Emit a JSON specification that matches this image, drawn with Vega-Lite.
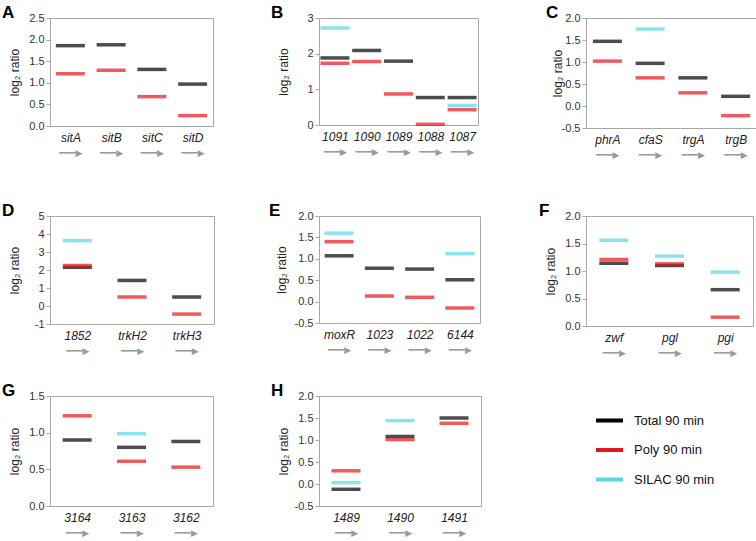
{
"$schema": "https://vega.github.io/schema/vega-lite/v6.json",
"background": "white",
"padding": {"left": 1, "top": 3, "right": 0, "bottom": 0},
"columns": 3,
"align": "none",
"bounds": "flush",
"spacing": {"row": 5, "column": 105},
"data": {"values": [
{"panel":"A","gene":"sitA","series":"Total 90 min","value":1.86},
{"panel":"A","gene":"sitA","series":"Poly 90 min","value":1.21},
{"panel":"A","gene":"sitB","series":"Total 90 min","value":1.88},
{"panel":"A","gene":"sitB","series":"Poly 90 min","value":1.29},
{"panel":"A","gene":"sitC","series":"Total 90 min","value":1.31},
{"panel":"A","gene":"sitC","series":"Poly 90 min","value":0.68},
{"panel":"A","gene":"sitD","series":"Total 90 min","value":0.97},
{"panel":"A","gene":"sitD","series":"Poly 90 min","value":0.24},
{"panel":"B","gene":"1091","series":"Total 90 min","value":1.88},
{"panel":"B","gene":"1091","series":"Poly 90 min","value":1.73},
{"panel":"B","gene":"1091","series":"SILAC 90 min","value":2.72},
{"panel":"B","gene":"1090","series":"Total 90 min","value":2.09},
{"panel":"B","gene":"1090","series":"Poly 90 min","value":1.78},
{"panel":"B","gene":"1089","series":"Total 90 min","value":1.79},
{"panel":"B","gene":"1089","series":"Poly 90 min","value":0.87},
{"panel":"B","gene":"1088","series":"Total 90 min","value":0.77},
{"panel":"B","gene":"1088","series":"Poly 90 min","value":0.02},
{"panel":"B","gene":"1087","series":"Total 90 min","value":0.77},
{"panel":"B","gene":"1087","series":"Poly 90 min","value":0.43},
{"panel":"B","gene":"1087","series":"SILAC 90 min","value":0.55},
{"panel":"C","gene":"phrA","series":"Total 90 min","value":1.47},
{"panel":"C","gene":"phrA","series":"Poly 90 min","value":1.02},
{"panel":"C","gene":"cfaS","series":"Total 90 min","value":0.97},
{"panel":"C","gene":"cfaS","series":"Poly 90 min","value":0.64},
{"panel":"C","gene":"cfaS","series":"SILAC 90 min","value":1.75},
{"panel":"C","gene":"trgA","series":"Total 90 min","value":0.64},
{"panel":"C","gene":"trgA","series":"Poly 90 min","value":0.30},
{"panel":"C","gene":"trgB","series":"Total 90 min","value":0.22},
{"panel":"C","gene":"trgB","series":"Poly 90 min","value":-0.22},
{"panel":"D","gene":"1852","series":"Total 90 min","value":2.15},
{"panel":"D","gene":"1852","series":"Poly 90 min","value":2.25},
{"panel":"D","gene":"1852","series":"SILAC 90 min","value":3.63},
{"panel":"D","gene":"trkH2","series":"Total 90 min","value":1.42},
{"panel":"D","gene":"trkH2","series":"Poly 90 min","value":0.5},
{"panel":"D","gene":"trkH3","series":"Total 90 min","value":0.5},
{"panel":"D","gene":"trkH3","series":"Poly 90 min","value":-0.45},
{"panel":"E","gene":"moxR","series":"Total 90 min","value":1.07},
{"panel":"E","gene":"moxR","series":"Poly 90 min","value":1.40},
{"panel":"E","gene":"moxR","series":"SILAC 90 min","value":1.60},
{"panel":"E","gene":"1023","series":"Total 90 min","value":0.78},
{"panel":"E","gene":"1023","series":"Poly 90 min","value":0.13},
{"panel":"E","gene":"1022","series":"Total 90 min","value":0.76},
{"panel":"E","gene":"1022","series":"Poly 90 min","value":0.10},
{"panel":"E","gene":"6144","series":"Total 90 min","value":0.51},
{"panel":"E","gene":"6144","series":"Poly 90 min","value":-0.15},
{"panel":"E","gene":"6144","series":"SILAC 90 min","value":1.12},
{"panel":"F","gene":"zwf","series":"Total 90 min","value":1.14},
{"panel":"F","gene":"zwf","series":"Poly 90 min","value":1.21},
{"panel":"F","gene":"zwf","series":"SILAC 90 min","value":1.56},
{"panel":"F","gene":"pgl","series":"Total 90 min","value":1.10},
{"panel":"F","gene":"pgl","series":"Poly 90 min","value":1.13},
{"panel":"F","gene":"pgl","series":"SILAC 90 min","value":1.27},
{"panel":"F","gene":"pgi","series":"Total 90 min","value":0.66},
{"panel":"F","gene":"pgi","series":"Poly 90 min","value":0.16},
{"panel":"F","gene":"pgi","series":"SILAC 90 min","value":0.98},
{"panel":"G","gene":"3164","series":"Total 90 min","value":0.90},
{"panel":"G","gene":"3164","series":"Poly 90 min","value":1.23},
{"panel":"G","gene":"3163","series":"Total 90 min","value":0.80},
{"panel":"G","gene":"3163","series":"Poly 90 min","value":0.61},
{"panel":"G","gene":"3163","series":"SILAC 90 min","value":0.985},
{"panel":"G","gene":"3162","series":"Total 90 min","value":0.88},
{"panel":"G","gene":"3162","series":"Poly 90 min","value":0.53},
{"panel":"H","gene":"1489","series":"Total 90 min","value":-0.12},
{"panel":"H","gene":"1489","series":"Poly 90 min","value":0.30},
{"panel":"H","gene":"1489","series":"SILAC 90 min","value":0.03},
{"panel":"H","gene":"1490","series":"Total 90 min","value":1.08},
{"panel":"H","gene":"1490","series":"Poly 90 min","value":1.01},
{"panel":"H","gene":"1490","series":"SILAC 90 min","value":1.44},
{"panel":"H","gene":"1491","series":"Total 90 min","value":1.50},
{"panel":"H","gene":"1491","series":"Poly 90 min","value":1.38}
]},
"concat": [
{"width": 163, "height": 108, "title": {"text": "A", "dx": -48},
 "transform": [{"filter": "datum.panel === 'A'"}],
 "resolve": {"axis": {"x": "independent"}},
 "layer": [
  {"mark": {"type": "tick", "thickness": 3.5, "size": 29},
   "encoding": {
    "x": {"field": "gene", "type": "nominal", "sort": null, "title": null, "scale": {"type": "point", "padding": 0.5}},
    "y": {"field": "value", "type": "quantitative", "title": "log₂ ratio", "scale": {"domain": [0, 2.5], "nice": false, "zero": false}, "axis": {"values": [0, 0.5, 1, 1.5, 2, 2.5], "labelExpr": "replace(format(datum.value, '.1f'), '−', '-')"}},
    "color": {"field": "series", "type": "nominal", "scale": {"domain": ["Total 90 min", "Poly 90 min", "SILAC 90 min"], "range": ["#000000", "#e8141b", "#5ad8e6"]},
      "legend": {"orient": "none", "legendX": 546, "legendY": 389, "title": null, "symbolType": "M-1,-0.15L1,-0.15L1,0.15L-1,0.15Z", "symbolSize": 729, "symbolStrokeWidth": 0, "symbolOpacity": 1, "labelFontSize": 13, "labelFont": "Liberation Sans", "labelColor": "#111", "labelOffset": 11, "rowPadding": 8.5, "padding": 0,
        "encode": {"symbols": {"update": {"fill": {"signal": "datum.value === 'Total 90 min' ? '#000000' : datum.value === 'Poly 90 min' ? '#e8141b' : '#1ab7ec'"}, "opacity": {"value": 1}, "fillOpacity": {"value": 1}}}}}}
   }},
  {"mark": {"type": "tick", "opacity": 0},
   "encoding": {"x": {"field": "gene", "type": "nominal", "sort": null, "title": null, "scale": {"type": "point", "padding": 0.5},
     "axis": {"orient": "bottom", "labelExpr": "'━━━▶'", "labelPadding": 22, "labelColor": "#9a9a9a", "labelFont": "DejaVu Sans", "labelFontSize": 9, "labelFontStyle": "normal"}}}}
 ]},
{"width": 159, "height": 107, "title": {"text": "B", "dx": -48},
 "transform": [{"filter": "datum.panel === 'B'"}],
 "resolve": {"axis": {"x": "independent"}},
 "layer": [
  {"mark": {"type": "tick", "thickness": 3.5, "size": 29},
   "encoding": {
    "x": {"field": "gene", "type": "nominal", "sort": null, "title": null, "scale": {"type": "point", "padding": 0.5}},
    "y": {"field": "value", "type": "quantitative", "title": "log₂ ratio", "scale": {"domain": [0, 3], "nice": false, "zero": false}, "axis": {"values": [0, 1, 2, 3], "format": "d"}},
    "color": {"field": "series", "type": "nominal", "scale": {"domain": ["Total 90 min", "Poly 90 min", "SILAC 90 min"], "range": ["#000000", "#e8141b", "#5ad8e6"]}}
   }},
  {"mark": {"type": "tick", "opacity": 0},
   "encoding": {"x": {"field": "gene", "type": "nominal", "sort": null, "title": null, "scale": {"type": "point", "padding": 0.5},
     "axis": {"orient": "bottom", "labelExpr": "'━━━▶'", "labelPadding": 22, "labelColor": "#9a9a9a", "labelFont": "DejaVu Sans", "labelFontSize": 9, "labelFontStyle": "normal"}}}}
 ]},
{"width": 171, "height": 110, "title": {"text": "C", "dx": -40},
 "transform": [{"filter": "datum.panel === 'C'"}],
 "resolve": {"axis": {"x": "independent"}},
 "layer": [
  {"mark": {"type": "tick", "thickness": 3.5, "size": 29},
   "encoding": {
    "x": {"field": "gene", "type": "nominal", "sort": null, "title": null, "scale": {"type": "point", "padding": 0.5}},
    "y": {"field": "value", "type": "quantitative", "title": "log₂ ratio", "scale": {"domain": [-0.5, 2], "nice": false, "zero": false}, "axis": {"values": [-0.5, 0, 0.5, 1, 1.5, 2], "titleX": -29, "labelExpr": "replace(format(datum.value, '.1f'), '−', '-')"}},
    "color": {"field": "series", "type": "nominal", "scale": {"domain": ["Total 90 min", "Poly 90 min", "SILAC 90 min"], "range": ["#000000", "#e8141b", "#5ad8e6"]}}
   }},
  {"mark": {"type": "tick", "opacity": 0},
   "encoding": {"x": {"field": "gene", "type": "nominal", "sort": null, "title": null, "scale": {"type": "point", "padding": 0.5},
     "axis": {"orient": "bottom", "labelExpr": "'━━━▶'", "labelPadding": 22, "labelColor": "#9a9a9a", "labelFont": "DejaVu Sans", "labelFontSize": 9, "labelFontStyle": "normal"}}}}
 ]},
{"width": 1, "height": 78, "data": {"values": []}, "mark": {"type": "point", "opacity": 0}, "view": {"stroke": null}},
{"width": 1, "height": 78, "data": {"values": []}, "mark": {"type": "point", "opacity": 0}, "view": {"stroke": null}},
{"width": 1, "height": 75, "data": {"values": []}, "mark": {"type": "point", "opacity": 0}, "view": {"stroke": null}},
{"width": 164, "height": 108, "title": {"text": "D", "dx": -48},
 "transform": [{"filter": "datum.panel === 'D'"}],
 "resolve": {"axis": {"x": "independent"}},
 "layer": [
  {"mark": {"type": "tick", "thickness": 3.5, "size": 29},
   "encoding": {
    "x": {"field": "gene", "type": "nominal", "sort": null, "title": null, "scale": {"type": "point", "padding": 0.5}},
    "y": {"field": "value", "type": "quantitative", "title": "log₂ ratio", "scale": {"domain": [-1, 5], "nice": false, "zero": false}, "axis": {"values": [-1, 0, 1, 2, 3, 4, 5], "labelExpr": "replace(format(datum.value, 'd'), '−', '-')"}},
    "color": {"field": "series", "type": "nominal", "scale": {"domain": ["Total 90 min", "Poly 90 min", "SILAC 90 min"], "range": ["#000000", "#e8141b", "#5ad8e6"]}}
   }},
  {"mark": {"type": "tick", "opacity": 0},
   "encoding": {"x": {"field": "gene", "type": "nominal", "sort": null, "title": null, "scale": {"type": "point", "padding": 0.5},
     "axis": {"orient": "bottom", "labelExpr": "'━━━▶'", "labelPadding": 22, "labelColor": "#9a9a9a", "labelFont": "DejaVu Sans", "labelFontSize": 9, "labelFontStyle": "normal"}}}}
 ]},
{"width": 161, "height": 107, "title": {"text": "E", "dx": -50},
 "transform": [{"filter": "datum.panel === 'E'"}],
 "resolve": {"axis": {"x": "independent"}},
 "layer": [
  {"mark": {"type": "tick", "thickness": 3.5, "size": 29},
   "encoding": {
    "x": {"field": "gene", "type": "nominal", "sort": null, "title": null, "scale": {"type": "point", "padding": 0.5}},
    "y": {"field": "value", "type": "quantitative", "title": "log₂ ratio", "scale": {"domain": [-0.5, 2], "nice": false, "zero": false}, "axis": {"values": [-0.5, 0, 0.5, 1, 1.5, 2], "titleX": -38, "labelExpr": "replace(format(datum.value, '.1f'), '−', '-')"}},
    "color": {"field": "series", "type": "nominal", "scale": {"domain": ["Total 90 min", "Poly 90 min", "SILAC 90 min"], "range": ["#000000", "#e8141b", "#5ad8e6"]}}
   }},
  {"mark": {"type": "tick", "opacity": 0},
   "encoding": {"x": {"field": "gene", "type": "nominal", "sort": null, "title": null, "scale": {"type": "point", "padding": 0.5},
     "axis": {"orient": "bottom", "labelExpr": "'━━━▶'", "labelPadding": 22, "labelColor": "#9a9a9a", "labelFont": "DejaVu Sans", "labelFontSize": 9, "labelFontStyle": "normal"}}}}
 ]},
{"width": 167, "height": 110, "title": {"text": "F", "dx": -47},
 "transform": [{"filter": "datum.panel === 'F'"}],
 "resolve": {"axis": {"x": "independent"}},
 "layer": [
  {"mark": {"type": "tick", "thickness": 3.5, "size": 29},
   "encoding": {
    "x": {"field": "gene", "type": "nominal", "sort": null, "title": null, "scale": {"type": "point", "padding": 0.5}},
    "y": {"field": "value", "type": "quantitative", "title": "log₂ ratio", "scale": {"domain": [0, 2], "nice": false, "zero": false}, "axis": {"values": [0, 0.5, 1, 1.5, 2], "labelExpr": "replace(format(datum.value, '.1f'), '−', '-')"}},
    "color": {"field": "series", "type": "nominal", "scale": {"domain": ["Total 90 min", "Poly 90 min", "SILAC 90 min"], "range": ["#000000", "#e8141b", "#5ad8e6"]}}
   }},
  {"mark": {"type": "tick", "opacity": 0},
   "encoding": {"x": {"field": "gene", "type": "nominal", "sort": null, "title": null, "scale": {"type": "point", "padding": 0.5},
     "axis": {"orient": "bottom", "labelExpr": "'━━━▶'", "labelPadding": 22, "labelColor": "#9a9a9a", "labelFont": "DejaVu Sans", "labelFontSize": 9, "labelFontStyle": "normal"}}}}
 ]},
{"width": 1, "height": 58, "data": {"values": []}, "mark": {"type": "point", "opacity": 0}, "view": {"stroke": null}},
{"width": 1, "height": 60, "data": {"values": []}, "mark": {"type": "point", "opacity": 0}, "view": {"stroke": null}},
{"width": 1, "height": 1, "data": {"values": []}, "mark": {"type": "point", "opacity": 0}, "view": {"stroke": null}},
{"width": 163, "height": 110, "title": {"text": "G", "dx": -48},
 "transform": [{"filter": "datum.panel === 'G'"}],
 "resolve": {"axis": {"x": "independent"}},
 "layer": [
  {"mark": {"type": "tick", "thickness": 3.5, "size": 29},
   "encoding": {
    "x": {"field": "gene", "type": "nominal", "sort": null, "title": null, "scale": {"type": "point", "padding": 0.5}},
    "y": {"field": "value", "type": "quantitative", "title": "log₂ ratio", "scale": {"domain": [0, 1.5], "nice": false, "zero": false}, "axis": {"values": [0, 0.5, 1, 1.5], "labelExpr": "replace(format(datum.value, '.1f'), '−', '-')"}},
    "color": {"field": "series", "type": "nominal", "scale": {"domain": ["Total 90 min", "Poly 90 min", "SILAC 90 min"], "range": ["#000000", "#e8141b", "#5ad8e6"]}}
   }},
  {"mark": {"type": "tick", "opacity": 0},
   "encoding": {"x": {"field": "gene", "type": "nominal", "sort": null, "title": null, "scale": {"type": "point", "padding": 0.5},
     "axis": {"orient": "bottom", "labelExpr": "'━━━▶'", "labelPadding": 22, "labelColor": "#9a9a9a", "labelFont": "DejaVu Sans", "labelFontSize": 9, "labelFontStyle": "normal"}}}}
 ]},
{"width": 162, "height": 110, "title": {"text": "H", "dx": -48},
 "transform": [{"filter": "datum.panel === 'H'"}],
 "resolve": {"axis": {"x": "independent"}},
 "layer": [
  {"mark": {"type": "tick", "thickness": 3.5, "size": 29},
   "encoding": {
    "x": {"field": "gene", "type": "nominal", "sort": null, "title": null, "scale": {"type": "point", "padding": 0.5}},
    "y": {"field": "value", "type": "quantitative", "title": "log₂ ratio", "scale": {"domain": [-0.5, 2], "nice": false, "zero": false}, "axis": {"values": [-0.5, 0, 0.5, 1, 1.5, 2], "labelExpr": "replace(format(datum.value, '.1f'), '−', '-')"}},
    "color": {"field": "series", "type": "nominal", "scale": {"domain": ["Total 90 min", "Poly 90 min", "SILAC 90 min"], "range": ["#000000", "#e8141b", "#5ad8e6"]}}
   }},
  {"mark": {"type": "tick", "opacity": 0},
   "encoding": {"x": {"field": "gene", "type": "nominal", "sort": null, "title": null, "scale": {"type": "point", "padding": 0.5},
     "axis": {"orient": "bottom", "labelExpr": "'━━━▶'", "labelPadding": 22, "labelColor": "#9a9a9a", "labelFont": "DejaVu Sans", "labelFontSize": 9, "labelFontStyle": "normal"}}}}
 ]}
],
"config": {
 "view": {"stroke": "#a8a8a8", "strokeWidth": 1},
 "title": {"anchor": "start", "frame": "group", "font": "Liberation Sans", "fontSize": 17, "fontWeight": "bold", "color": "#000000", "offset": 0, "baseline": "alphabetic", "dy": 14},
 "axis": {"labelFont": "Liberation Sans", "titleFont": "Liberation Sans", "domain": false, "grid": false},
 "axisX": {"ticks": false, "labelAngle": 0, "labelFontSize": 12, "labelFontStyle": "italic", "labelColor": "#222222", "labelPadding": 6},
 "axisY": {"tickSize": 4, "tickColor": "#a8a8a8", "labelFontSize": 11, "labelColor": "#333333", "labelPadding": 2, "titleFontSize": 12, "titleFontWeight": "normal", "titleColor": "#222222", "titleX": -36, "titleBaseline": "middle"}
}
}
